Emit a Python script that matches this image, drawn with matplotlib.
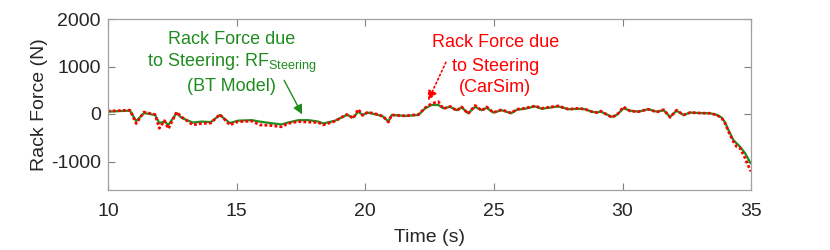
"""
rack_force_steering.py - rack force due to steering, BT model vs CarSim
"""

import matplotlib
matplotlib.use('Agg')
import matplotlib.pyplot as plt
import numpy as np

# values
time_s = [
    10.0, 10.4, 10.86, 11.1, 11.4, 11.83, 12.0, 12.2, 12.35, 12.67, 12.86, 13.3,
    13.64, 14.0, 14.35, 14.74, 15.06, 15.6, 15.9, 16.3, 16.75, 17.0, 17.4, 17.8,
    18.18, 18.37, 18.83, 19.28, 19.54, 19.73, 19.9, 20.1, 20.5, 20.7, 20.9, 21.03,
    21.55, 22.07, 22.33, 22.58, 22.84, 23.04, 23.3, 23.56, 23.75, 24.0, 24.27, 24.53,
    24.72, 24.98, 25.3, 25.67, 25.9, 26.2, 26.6, 26.86, 27.5, 27.9, 28.3, 28.55,
    28.8, 29.0, 29.15, 29.32, 29.58, 29.78, 30.04, 30.3, 30.62, 31.0, 31.33, 31.6,
    31.85, 32.1, 32.37, 32.63, 33.0, 33.4, 33.67, 33.86, 33.99, 34.12, 34.31, 34.44,
    34.57, 34.77, 34.96, 35.0,
]
rf_bt_model = [
    50, 60, 70, -150, 20, -20, -190, -160, -230, 20, -80, -180,
    -160, -170, -20, -190, -140, -130, -160, -190, -220, -180, -130, -130,
    -160, -200, -140, -20, -70, 50, -20, 30, -20, -55, -160, -20,
    -40, -20, 120, 190, 190, 120, 150, 80, 140, 15, 150, 80,
    130, 30, 80, 15, 90, 110, 160, 110, 160, 100, 110, 100,
    50, 30, 50, 10, -60, -20, 120, 70, 50, 100, 50, 80,
    -60, 70, -20, 30, 20, 15, -20, -80, -180, -340, -550, -620,
    -690, -830, -1020, -1040,
]
rf_carsim = [
    60, 70, 80, -200, 40, -10, -300, -140, -310, 40, -60, -230,
    -200, -190, -10, -230, -160, -150, -230, -240, -270, -200, -160, -170,
    -180, -230, -150, -10, -90, 100, -30, 40, -10, -50, -170, -20,
    -40, -10, 130, 220, 260, 110, 160, 70, 150, 5, 180, 70,
    150, 30, 90, 20, 100, 120, 170, 120, 170, 100, 120, 100,
    50, 30, 60, 10, -70, -20, 150, 60, 50, 100, 40, 90,
    -70, 80, -20, 30, 20, 15, -20, -90, -200, -370, -580, -690,
    -720, -930, -1180, -1200,
]
x_ticks = [10, 15, 20, 25, 30, 35]
y_ticks = [-1000, 0, 1000, 2000]

GREEN = '#1f8c1f'
RED = '#ff0000'

plt.rcParams['font.family'] = ['Liberation Sans', 'DejaVu Sans']
plt.rcParams['mathtext.fontset'] = 'custom'
plt.rcParams['mathtext.rm'] = 'Liberation Sans'
plt.rcParams['mathtext.it'] = 'Liberation Sans'
plt.rcParams['axes.unicode_minus'] = False

figure = plt.figure(figsize=(8.3, 2.5), dpi=100)
axis = figure.add_axes([0.130, 0.240, 0.775, 0.684])

axis.plot(time_s, rf_bt_model, color=GREEN, linewidth=1.6)
axis.plot(time_s, rf_carsim, color=RED, linestyle=(0, (1, 0.8)), linewidth=2.0)

axis.set_xlim(10, 35)
axis.set_ylim(-1600, 2000)
axis.set_xticks(x_ticks)
axis.set_yticks(y_ticks)
axis.set_xlabel('Time (s)', fontsize=14, color='#262626', labelpad=7)
axis.set_ylabel('Rack Force (N)', fontsize=14, color='#262626', labelpad=2)
axis.tick_params(direction='in', top=True, right=True, length=5, width=0.8,
                 color='#808080', labelsize=14, labelcolor='#262626')
axis.tick_params(axis='x', pad=9)
axis.tick_params(axis='y', pad=5)
for spine in axis.spines.values():
    spine.set_color('#a0a0a0')
    spine.set_linewidth(0.9)

# BT model annotation (green)
for y_pos, line in zip([1560, 1070, 570],
                       ['Rack Force due', r'to Steering: RF$_{\mathrm{Steering}}$', '(BT Model)']):
    axis.text(14.82, y_pos, line, color=GREEN, fontsize=13, ha='center', va='center')
axis.annotate('', xy=(17.6, -60), xytext=(16.8, 760),
              arrowprops={'arrowstyle': '-|>', 'color': GREEN, 'lw': 1.0,
                          'mutation_scale': 14})

# CarSim annotation (red)
for y_pos, line in zip([1495, 1010, 550], ['Rack Force due', 'to Steering', '(CarSim)']):
    axis.text(25.05, y_pos, line, color=RED, fontsize=13, ha='center', va='center')
axis.annotate('', xy=(22.4, 230), xytext=(23.18, 1140),
              arrowprops={'arrowstyle': '-|>', 'color': RED, 'lw': 1.2,
                          'linestyle': ':', 'mutation_scale': 14})

plt.savefig('out.png', dpi=100)
plt.close(figure)
